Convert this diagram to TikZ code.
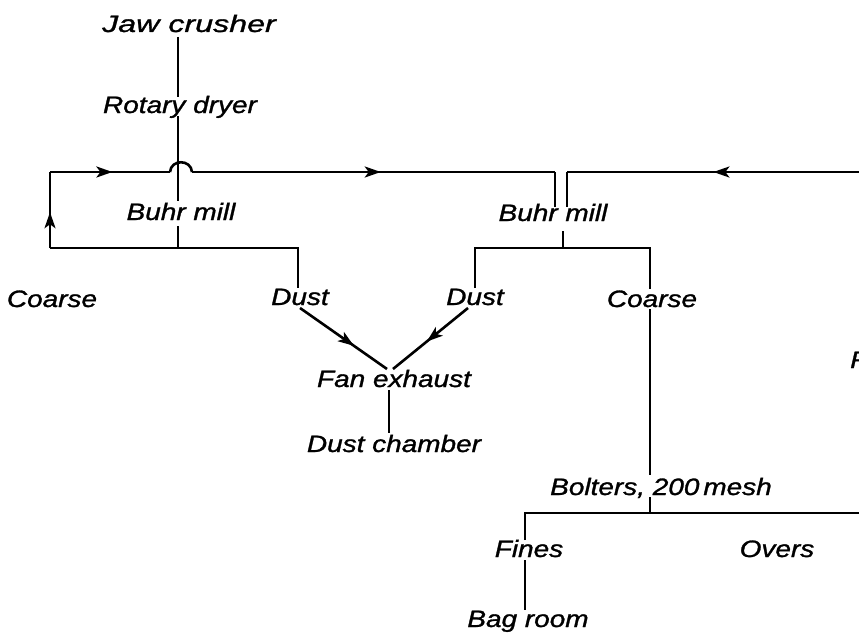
\documentclass[tikz,border=0pt]{standalone}
\usepackage{fontspec}
\newfontfamily\lett[FakeStretch=1.18,FakeBold=1.2]{Liberation Sans}
\newfontfamily\lettw[FakeStretch=1.36,FakeBold=1.2]{Liberation Sans}
\usetikzlibrary{arrows.meta,decorations.markings}
\tikzset{
  lab/.style={font=\lett\itshape\fontsize{23.7}{24}\selectfont, inner sep=0pt, anchor=base},
  labw/.style={lab, font=\lettw\itshape\fontsize{23.7}{24}\selectfont},
  flow/.style={line width=2.6pt, line cap=butt, line join=miter},
  midarrow/.style={postaction={decorate}, decoration={markings,
     mark=at position #1 with {\arrow{Stealth[length=16pt,width=11pt,inset=4pt]}}}}
}
\begin{document}
\begin{tikzpicture}[x=1pt,y=-1pt]
\useasboundingbox (0,0) rectangle (859,634);
\clip (0,0) rectangle (859,634);
\fill[white] (0,0) rectangle (859,634);
% labels
\node[labw] (jaw) at (189,32) {Jaw crusher};
\node[lab] (rot) at (180,113) {Rotary dryer};
\node[lab] (bml) at (181,220) {Buhr mill};
\node[lab] (bmr) at (553,221) {Buhr mill};
\node[lab] (coal) at (52,307) {Coarse};
\node[lab] (dusl) at (300,305) {Dust};
\node[lab] (dusr) at (475,305) {Dust};
\node[lab] (coar) at (652,307) {Coarse};
\node[lab] (fan) at (394,387) {Fan exhaust};
\node[lab] (dch) at (394,452) {Dust chamber};
\node[lab] (bol) at (661,495) {Bolters, 200\,mesh};
\node[lab] (fin) at (529,557) {Fines};
\node[lab] (ove) at (777,557) {Overs};
\node[lab] (bag) at (528,627) {Bag room};
\node[lab, anchor=base west] (cut) at (850,368) {R};
% junction coordinates
\coordinate (jawB) at (178,37);
\coordinate (rotT) at (178,97);
\coordinate (rotB) at (178,116);
\coordinate (bmlT) at (178,201);
\coordinate (bmlB) at (178,226);
\coordinate (jL) at (178,248);
\coordinate (lb) at (50,248);
\coordinate (lt) at (50,172);
\coordinate (hopA) at (170,172);
\coordinate (hopB) at (192,172);
\coordinate (in1) at (555,172);
\coordinate (in1b) at (555,207);
\coordinate (in2) at (567,172);
\coordinate (in2b) at (567,207);
\coordinate (redge) at (872,172);
\coordinate (dlc) at (298,248);
\coordinate (dlb) at (298,288);
\coordinate (bmrB) at (563,231);
\coordinate (jR) at (563,248);
\coordinate (drc) at (475,248);
\coordinate (drb) at (475,288);
\coordinate (crc) at (650,248);
\coordinate (crb) at (650,289);
\coordinate (crb2) at (650,309);
\coordinate (bolT) at (650,475);
\coordinate (bolB) at (650,497);
\coordinate (jB) at (650,513);
\coordinate (fic) at (525,513);
\coordinate (fit) at (525,540);
\coordinate (fib) at (525,560);
\coordinate (bagT) at (525,610);
\coordinate (redge2) at (872,513);
\coordinate (dlS) at (300,308);
\coordinate (drS) at (468,308);
\coordinate (fanL) at (387,369);
\coordinate (fanR) at (393,369);
\coordinate (fanB) at (389,390);
\coordinate (dchT) at (389,433);
% connectors
\draw[flow] (jawB) -- (rotT);
\draw[flow] (rotB) -- (bmlT);
\draw[flow] (bmlB) -- (jL);
\draw[flow, midarrow=0.47] (lb) -- (lt);
\draw[flow, midarrow=0.52] (lt) -- (hopA);
\draw[flow] (hopA) .. controls (171,159) and (191,159) .. (hopB);
\draw[flow, midarrow=0.52] (hopB) -- (in1);
\draw[flow] (in1) -- (in1b);
\draw[flow, midarrow=0.52] (redge) -- (in2);
\draw[flow] (in2) -- (in2b);
\draw[flow] (lb) -- (dlc) -- (dlb);
\draw[flow] (bmrB) -- (jR);
\draw[flow] (drb) -- (drc) -- (crc) -- (crb);
\draw[flow] (crb2) -- (bolT);
\draw[flow] (bolB) -- (jB);
\draw[flow] (fit) -- (fic) -- (redge2);
\draw[flow] (fib) -- (bagT);
\draw[flow, midarrow=0.62] (dlS) -- (fanL);
\draw[flow, midarrow=0.55] (drS) -- (fanR);
\draw[flow] (fanB) -- (dchT);
\end{tikzpicture}
\end{document}
